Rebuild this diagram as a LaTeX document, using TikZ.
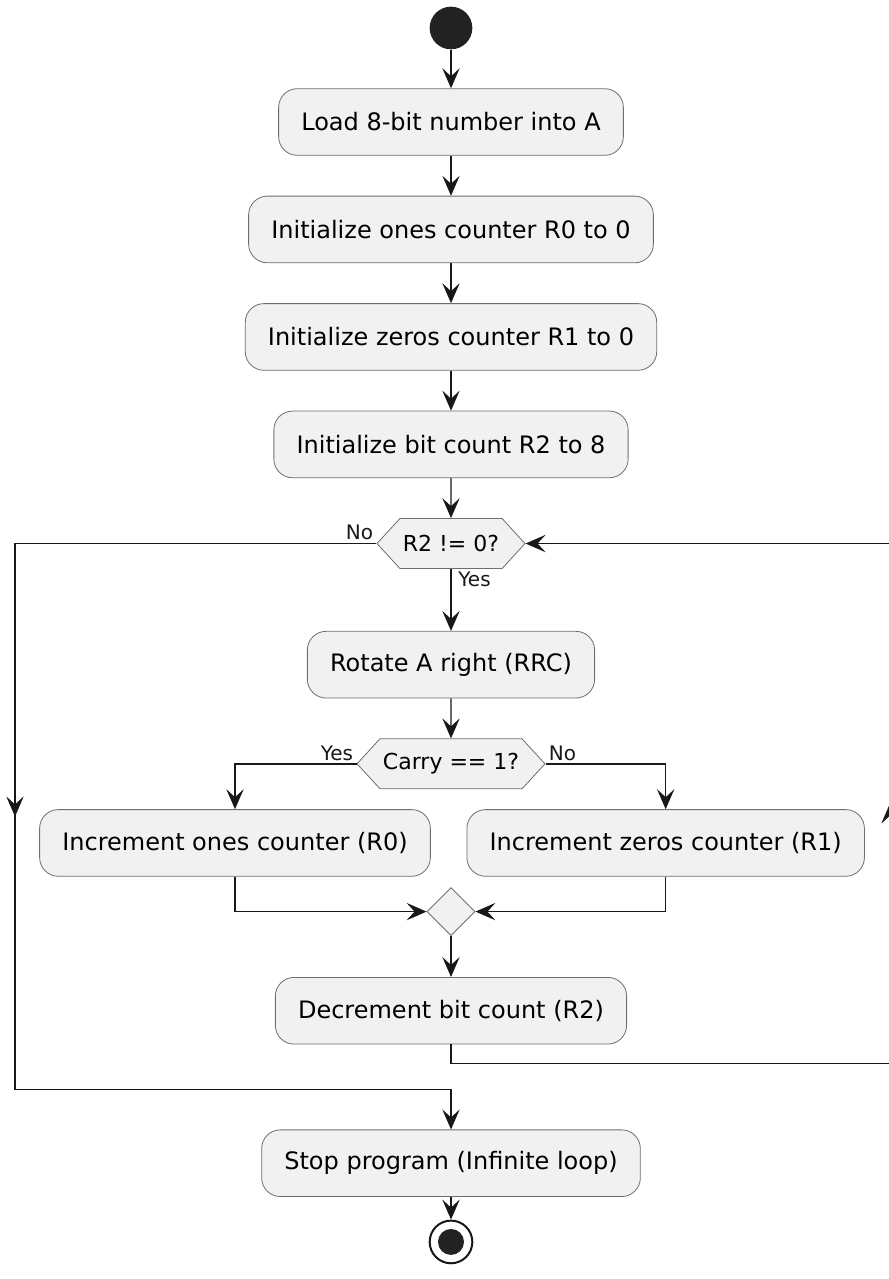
\documentclass[tikz,border=0pt]{standalone}
\usepackage{fontspec}
\setmainfont{DejaVu Sans}
\usetikzlibrary{arrows.meta,positioning,calc,shapes.geometric,shapes.symbols,decorations.markings}
\definecolor{ActFill}{HTML}{F1F1F1}
\definecolor{ActLine}{HTML}{181818}
\definecolor{ActBorder}{HTML}{6E6E6E}
\definecolor{ActDark}{HTML}{222222}

\begin{document}
\begin{tikzpicture}[x=0.75pt, y=-0.75pt,
    act/.style={draw=ActBorder, line width=0.6pt, fill=ActFill, rounded corners=14pt, minimum height=50pt, inner xsep=17pt, font=\fontsize{18}{21}\selectfont},
    cond/.style={signal, signal to=west and east, signal pointer angle=95, draw=ActBorder, line width=0.6pt, fill=ActFill, minimum height=37.5pt, inner xsep=2.25pt, font=\fontsize{16.5}{19}\selectfont},
    joinpt/.style={diamond, draw=ActBorder, line width=0.6pt, fill=ActFill, minimum size=36pt, inner sep=0pt},
    startst/.style={circle, fill=ActDark, minimum size=32pt, inner sep=0pt},
    endst/.style={circle, draw=ActLine, line width=1.5pt, fill=white, minimum size=32pt, inner sep=0pt,
      path picture={\fill[ActDark] (path picture bounding box.center) circle (9.75pt);}},
    flow/.style={-{Stealth[length=15pt, width=13pt, inset=6pt]}, line width=1.1pt, ActLine},
    midarrow/.style={decoration={markings, mark=at position 0.5 with {\arrow[ActLine]{Stealth[length=15pt, width=13pt, inset=6pt]}}}, postaction={decorate}},
    lbl/.style={font=\fontsize{15}{18}\selectfont, inner sep=2pt},
    node distance=30pt
  ]
    \useasboundingbox (0,0) rectangle (889,1279);

    % Set-up steps
    \node[startst] (start) at (451,28) {};
    \node[act, below=29pt of start] (load) {Load 8-bit number into A};
    \node[act, below=of load] (initone) {Initialize ones counter R0 to 0};
    \node[act, below=of initone] (initzero) {Initialize zeros counter R1 to 0};
    \node[act, below=of initzero] (initbit) {Initialize bit count R2 to 8};

    % Loop body
    \node[cond, below=of initbit] (rtwo) {R2 != 0?};
    \node[act, below=46.5pt of rtwo] (rotate) {Rotate A right (RRC)};
    \node[cond, below=of rotate] (carry) {Carry == 1?};
    \node[act, below=15pt of carry, xshift=-162pt] (incone) {Increment ones counter (R0)};
    \node[act, below=15pt of carry, xshift=161pt] (inczero) {Increment zeros counter (R1)};
    \node[joinpt, below=73.5pt of carry] (join) {};
    \node[act, below=30.75pt of join] (decbit) {Decrement bit count (R2)};

    % End
    \node[act, below=63.75pt of decbit] (stop) {Stop program (Infinite loop)};
    \node[endst, below=17pt of stop] (finish) {};

    \draw[flow] (start) -- (load);
    \draw[flow] (load) -- (initone);
    \draw[flow] (initone) -- (initzero);
    \draw[flow] (initzero) -- (initbit);
    \draw[flow] (initbit) -- (rtwo);
    \draw[flow] (rtwo.south) -- node[pos=0, below right, lbl, xshift=3pt] {Yes} (rotate.north);
    \draw[flow] (rotate) -- (carry);
    \draw[flow] (carry.west) -| node[pos=0, above left, lbl] {Yes} (incone.north);
    \draw[flow] (carry.east) -| node[pos=0, above right, lbl] {No} (inczero.north);
    \draw[flow] (incone.south) |- (join.west);
    \draw[flow] (inczero.south) |- (join.east);
    \draw[flow] (join) -- (decbit);
    \draw[flow] (stop) -- (finish);

    % Loop exit and loop back
    \coordinate (lx) at (15,0);
    \coordinate (rx) at (890,0);
    \coordinate (lbot) at ($(stop.north)+(0,-40)$);
    \coordinate (rbot) at ($(decbit.south)+(0,19)$);
    \draw[flow] (rtwo.west) node[above left, lbl] {No} -| (lx |- lbot) -| (stop.north);
    \path[midarrow] (rtwo.west -| lx) -- (lx |- lbot);
    \draw[flow] (decbit.south) -- (rbot) -| (rtwo.east -| rx) -- (rtwo.east);
    \path[midarrow] (rbot -| rx) -- (rtwo.east -| rx);
  \end{tikzpicture}
\end{document}
